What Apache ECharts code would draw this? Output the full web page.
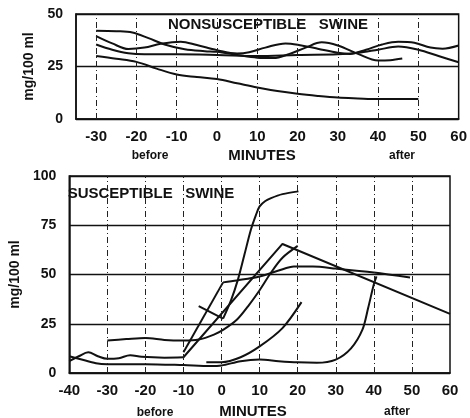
<!DOCTYPE html>
<html>
<head>
<meta charset="utf-8">
<script src="https://cdn.jsdelivr.net/npm/echarts@6/dist/echarts.min.js"></script>
<style>
html, body { margin: 0; padding: 0; background: #fff; }
#main { width: 470px; height: 418px; }
</style>
</head>
<body>
<div id="main"></div>
<script>
// nonsusceptible swine (top), [minutes, mg/100 ml]
var nsA = [[-30, 42], [-25, 41.8], [-21, 41.2], [-17, 38.5], [-13, 35.5], [-8, 33.2], [-3, 32.3], [0, 32], [5, 30.5], [10, 29.2], [14, 29], [18, 31], [22, 34], [26, 36.5], [30, 35], [35, 31], [40, 27.8], [43, 28], [46, 28.8]]
var nsB = [[-30, 39.5], [-26, 36], [-22, 33.3], [-18, 34], [-14, 35.8], [-9, 36.8], [-5, 35.2], [0, 32.8], [5, 31.2], [8, 31.8], [12, 34], [17, 36], [21, 35], [25, 33.5], [30, 31.5], [33, 31], [37, 33], [41, 35.5], [45, 36.8], [49, 36.3], [53, 34], [56, 33.5], [60, 35]]
var nsC = [[-30, 35.5], [-26, 33], [-22, 31.3], [-18, 30.8], [-10, 30.8], [0, 30.5], [10, 30], [20, 30.5], [30, 30.8], [35, 31.5], [40, 33], [45, 34.5], [50, 33], [55, 30], [60, 27]]
var nsD = [[-30, 30], [-25, 28.7], [-20, 27.2], [-15, 24], [-10, 21.2], [-5, 20], [0, 19], [5, 17], [10, 15], [15, 13.3], [20, 12], [25, 11], [30, 10.2], [35, 9.8], [40, 9.5], [45, 9.5], [50, 9.5]]

// susceptible swine (bottom)
var sWavy = [[-40, 6], [-37.5, 8.5], [-35, 10.5], [-32.5, 8.5], [-30, 7.2], [-27, 7.5], [-24, 9], [-21, 8.2], [-15, 7.8], [-10, 8]]
var sApex = [[-10, 8], [16, 65.5], [60, 30]]
var sPRise = [[-10, 10.5], [0.4, 46]]
var sPTop = [[0.4, 46], [4, 47], [10, 49], [15, 52], [19, 54], [24, 54], [30, 53], [40, 51], [49.5, 48.5]]
var s93Dip = [[-6, 34], [0.4, 27.6]]
var s93 = [[0.4, 27.6], [2.5, 37], [4.3, 47.4], [6, 60], [7.7, 72.7], [9, 80], [10, 84.6], [11.5, 87.3], [13, 88.8], [16, 90.8], [20.2, 92.2]]
var s17 = [[-30, 16.5], [-25, 17.2], [-20, 17.8], [-15, 16.8], [-10, 16.5], [-6, 17], [-2, 19.5], [0.5, 22], [4, 27], [7, 34], [10, 42], [13, 51], [16, 58.5], [20, 64.5]]
var sQ = [[-4, 5.5], [0, 5.5], [5, 8], [10, 13.5], [16, 22.8], [21, 36]]
var sL = [[-40, 8.5], [-37, 7], [-33, 5], [-30, 4.5], [-20, 4.5], [-10, 4], [-3, 3.5], [0, 3.8], [5, 6], [10, 6.8], [15, 6], [20, 5.4], [25, 5.2], [30, 6.8], [34, 12.5], [37, 22], [38.5, 33], [40, 45], [40.7, 49]]

var topTicks = [-30, -20, -10, 0, 10, 20, 30, 40, 50]
var botTicks = [-30, -20, -10, 0, 10, 20, 30, 40, 50]

var FONT = '"Liberation Sans", Arial, sans-serif'
var INK = '#111'

var chart = echarts.init(document.getElementById('main'))

function curve(data, idx, smooth) {
  return {
    type: 'line', xAxisIndex: idx, yAxisIndex: idx, data: data,
    smooth: smooth, symbol: 'none', silent: true,
    lineStyle: { color: INK, width: 2 }
  }
}

// dash-dot verticals
function vlines(series, ticks) {
  series.markLine = {
    symbol: 'none', silent: true, label: { show: false },
    lineStyle: { color: '#222', width: 1, type: [6, 3, 1, 3] },
    data: ticks.map(function (t) { return { xAxis: t } })
  }
  return series
}

function label(size, margin) {
  return { color: INK, fontFamily: FONT, fontWeight: 'bold', fontSize: size, margin: margin }
}

function yAx(idx, max, gap) {
  return {
    type: 'value', gridIndex: idx, min: 0, max: max, interval: 25,
    axisLine: { show: true, onZero: false, lineStyle: { color: INK, width: 1.5 } },
    axisTick: { show: false },
    axisLabel: label(14, 13),
    splitLine: { show: true, lineStyle: { color: INK, width: 1.3 } },
    name: 'mg/100 ml', nameLocation: 'middle', nameGap: gap,
    nameTextStyle: { color: INK, fontFamily: FONT, fontWeight: 'bold', fontSize: 14 }
  }
}

function txt(x, y, s, size) {
  return {
    type: 'text', x: x, y: y, silent: true,
    style: { text: s, fill: INK, font: 'bold ' + size + 'px ' + FONT, align: 'center', verticalAlign: 'middle', textAlign: 'center', textVerticalAlign: 'middle' }
  }
}

var topX = {
  type: 'value', gridIndex: 0, min: -35, max: 60, interval: 5,
  axisLine: { show: true, onZero: false, lineStyle: { color: INK, width: 1.5 } },
  axisTick: { show: false },
  axisLabel: label(15, 10),
  splitLine: { show: false }
}
topX.axisLabel.formatter = function (v) { return v % 10 === 0 ? v : '' }

var option = {
  animation: false,
  backgroundColor: '#fff',
  grid: [
    { left: 76, top: 14, width: 388, height: 105, show: true, borderColor: INK, borderWidth: 1.5 },
    { left: 61, top: 176, width: 389, height: 197, show: true, borderColor: INK, borderWidth: 1.5 }
  ],
  xAxis: [
    topX,
    {
      type: 'value', gridIndex: 1, min: -40, max: 60, interval: 10,
      axisLine: { show: true, onZero: false, lineStyle: { color: INK, width: 1.5 } },
      axisTick: { show: false },
      axisLabel: label(15, 10),
      splitLine: { show: false }
    }
  ],
  yAxis: [yAx(0, 50, 38), yAx(1, 100, 36)],
  graphic: [
    txt(268, 25, 'NONSUSCEPTIBLE   SWINE', 15),
    txt(151, 194, 'SUSCEPTIBLE   SWINE', 15),
    txt(150, 156, 'before', 12),
    txt(262, 156, 'MINUTES', 15),
    txt(402, 156, 'after', 12),
    txt(155, 413, 'before', 12),
    txt(253, 412, 'MINUTES', 15),
    txt(397, 412, 'after', 12)
  ],
  series: [
    vlines(curve(nsD, 0, 0.35), topTicks),
    curve(nsA, 0, 0.35),
    curve(nsB, 0, 0.35),
    curve(nsC, 0, 0.35),
    vlines(curve(sWavy, 1, 0.35), botTicks),
    curve(sApex, 1, false),
    curve(sPRise, 1, false),
    curve(sPTop, 1, 0.3),
    curve(s93Dip, 1, false),
    curve(s93, 1, 0.3),
    curve(s17, 1, 0.3),
    curve(sQ, 1, 0.3),
    curve(sL, 1, 0.3)
  ]
}
chart.setOption(option)
</script>
</body>
</html>
